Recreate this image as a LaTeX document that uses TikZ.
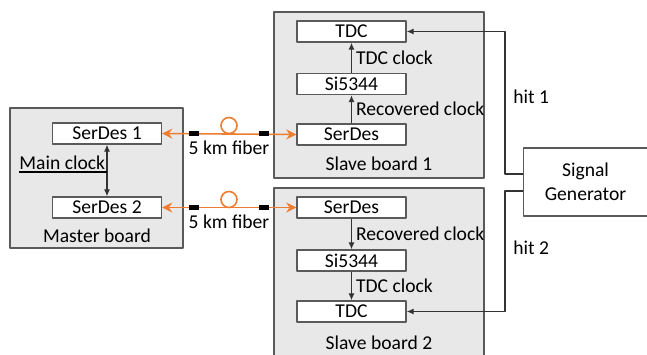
\documentclass[tikz,border=0pt]{standalone}
\usepackage{fontspec}
\setmainfont{Carlito}
\usetikzlibrary{arrows.meta}
\definecolor{fiberorange}{HTML}{ED7D31}
\definecolor{boardgray}{HTML}{E8E8E8}
\definecolor{edgegray}{HTML}{5A5A5A}

\begin{document}
\begin{tikzpicture}[x=0.5pt,y=-0.5pt,line join=round,
    every node/.style={font=\fontsize{9.8}{11.8}\selectfont},
    board/.style={draw=edgegray,fill=boardgray,line width=0.7pt,inner sep=0},
    chip/.style={draw=edgegray,fill=white,line width=0.7pt,inner sep=0,
        minimum width=54.5pt,minimum height=10.5pt},
    sig/.style={draw=black!80,line width=0.55pt,-{Latex[length=3.5pt,width=3pt]}},
    fiber/.style={draw=fiberorange,line width=0.8pt},
    plug/.style={draw=black,line width=2.2pt},
    lbl/.style={inner sep=0,anchor=west}]

    \clip (0,0) rectangle (647,354);

    % boards
    \node[board,minimum width=86.5pt,minimum height=70pt] (master) at (96.5,178) {};
    \node[board,minimum width=105pt,minimum height=83pt] (slaveA) at (379,95) {};
    \node[board,minimum width=105pt,minimum height=88pt] (slaveB) at (379,276) {};
    \node at (97,236) {Master board};
    \node at (379,164) {Slave board 1};
    \node at (379,343) {Slave board 2};

    % master board
    \node[chip] (sdma) at (107,133.5) {SerDes 1};
    \node[chip] (sdmb) at (107,207.5) {SerDes 2};
    \draw[sig,{Latex[length=3.5pt,width=3pt]}-{Latex[length=3.5pt,width=3pt]}] (sdma.south) -- (sdmb.north);
    \node[inner sep=0,anchor=south west] (mclk) at (19,170) {Main clock};
    \draw[line width=0.55pt] (19,172) -- (107,172);

    % slave board 1
    \node[chip] (tdcA) at (351.5,31.5) {TDC};
    \node[chip] (siA) at (351.5,84) {Si5344};
    \node[chip] (sdsa) at (351.5,134.5) {SerDes};
    \draw[sig] (siA.north) -- (tdcA.south) node[lbl,midway,xshift=2pt] {TDC clock};
    \draw[sig] (sdsa.north) -- (siA.south) node[lbl,midway,xshift=2pt] {Recovered clock};

    % slave board 2
    \node[chip] (sdsb) at (351.5,207.5) {SerDes};
    \node[chip] (siB) at (351.5,260.5) {Si5344};
    \node[chip] (tdcB) at (351.5,311.5) {TDC};
    \draw[sig] (sdsb.south) -- (siB.north) node[lbl,midway,xshift=2pt] {Recovered clock};
    \draw[sig] (siB.south) -- (tdcB.north) node[lbl,midway,xshift=2pt] {TDC clock};

    % fibers
    \foreach \m/\s/\y in {sdma/sdsa/133.5, sdmb/sdsb/207.5}{
        \draw[fiber,{Stealth[length=5pt,width=5pt]}-{Stealth[length=5pt,width=5pt]}] (\m.east) -- (\s.west);
        \draw[plug] (189,\y) -- (199,\y);
        \draw[plug] (259,\y) -- (269,\y);
        \draw[fiber] (229,\y-8) circle [radius=4pt];
        \node at (229,\y+14) {5 km fiber};
    }

    % signal generator
    \node[draw=edgegray,fill=white,line width=0.7pt,minimum width=62pt,minimum height=34pt,
        align=center,inner sep=0] (gen) at (585.5,182) {Signal\\Generator};
    \coordinate (hA) at (505,174);
    \coordinate (hB) at (505,191);
    \draw[sig] (gen.west |- hA) -- (hA) |- (tdcA.east);
    \draw[sig] (gen.west |- hB) -- (hB) |- (tdcB.east);
    \node[lbl] at (513,97) {hit 1};
    \node[lbl] at (513,248) {hit 2};

\end{tikzpicture}
\end{document}
